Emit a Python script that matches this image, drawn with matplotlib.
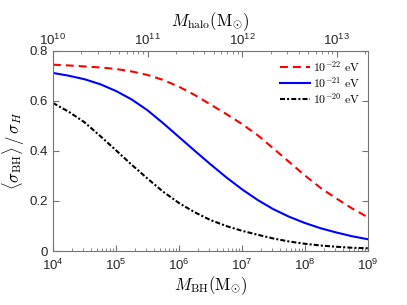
import numpy as np
import matplotlib
matplotlib.use('Agg')
import matplotlib.pyplot as plt

plt.rcParams['font.family'] = ['Liberation Sans', 'DejaVu Sans']
plt.rcParams['mathtext.fontset'] = 'cm'

# log10 of M_BH (solar masses), quarter-decade steps
logm = [4.0, 4.25, 4.5, 4.75, 5.0, 5.25, 5.5, 5.75, 6.0, 6.25, 6.5,
        6.75, 7.0, 7.25, 7.5, 7.75, 8.0, 8.25, 8.5, 8.75, 9.0]
ratio_22 = [0.745, 0.742, 0.738, 0.734, 0.728, 0.718, 0.704, 0.684, 0.657, 0.624, 0.586,
            0.548, 0.508, 0.463, 0.41, 0.356, 0.302, 0.252, 0.21, 0.17, 0.135]
ratio_21 = [0.712, 0.701, 0.687, 0.667, 0.640, 0.606, 0.563, 0.511, 0.456, 0.401, 0.347,
            0.295, 0.247, 0.204, 0.167, 0.137, 0.112, 0.091, 0.074, 0.059, 0.047]
ratio_20 = [0.592, 0.557, 0.515, 0.46, 0.403, 0.345, 0.29, 0.237, 0.192, 0.155, 0.124,
            0.10, 0.081, 0.065, 0.05, 0.038, 0.029, 0.022, 0.017, 0.013, 0.011]
labels = [r'$10^{-22}\ \rm eV$', r'$10^{-21}\ \rm eV$', r'$10^{-20}\ \rm eV$']

mbh = 10 ** np.array(logm)

fig = plt.figure(figsize=(4.07, 3.05), dpi=100)
ax = fig.add_axes([0.130, 0.177, 0.774, 0.656])

ax.plot(mbh, ratio_22, color='red', lw=1.5, dashes=(3.8, 2.4), label=labels[0])
ax.plot(mbh, ratio_21, color='blue', lw=1.5, label=labels[1])
ax.plot(mbh, ratio_20, color='black', lw=1.5, dashes=(2.4, 1.0, 1.0, 1.0), label=labels[2])

ax.set_xscale('log')
ax.set_xlim(1e4, 1e9)
ax.set_ylim(0, 0.8)
ax.set_yticks([0, 0.2, 0.4, 0.6, 0.8])
ax.set_yticklabels(['0', '0.2', '0.4', '0.6', '0.8'])
ax.set_xlabel(r'$M_{\rm BH}(\rm M_{\odot})$', fontsize=12, labelpad=1)
ax.set_ylabel(r'$\langle\sigma_{\rm BH}\rangle\,/\,\sigma_H$', fontsize=12, labelpad=2)
ax.tick_params(which='both', direction='in', right=True, color='0.45',
               labelsize=9.5, labelcolor='0.15')
ax.tick_params(axis='x', pad=5)
ax.tick_params(which='major', length=4)
ax.tick_params(which='minor', length=2.5)
for s in ax.spines.values():
    s.set_color('0.45')
    s.set_linewidth(0.8)

leg = ax.legend(loc='upper right', frameon=False, fontsize=8.5, handlelength=2.6,
                handletextpad=0.2, labelspacing=0.1, borderaxespad=0.3)

top = ax.twiny()
top.set_xscale('log')
top.set_xlim(1e10, 10 ** 13.33)
top.set_xticks([1e10, 1e11, 1e12, 1e13])
top.tick_params(which='both', direction='in', color='0.45', labelsize=9.5,
                labelcolor='0.15', pad=2)
top.tick_params(which='major', length=4)
top.tick_params(which='minor', length=2.5)
top.set_xlabel(r'$M_{\rm halo}(\rm M_{\odot})$', fontsize=12, labelpad=5)
for s in top.spines.values():
    s.set_visible(False)

fig.savefig('out.png', dpi=100)
